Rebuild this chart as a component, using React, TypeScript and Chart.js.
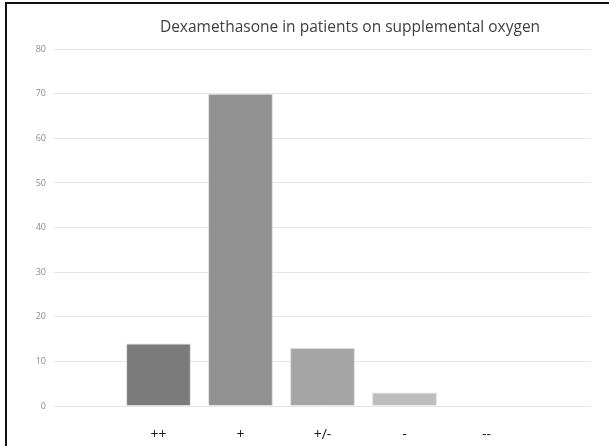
import React, { useEffect, useRef } from "react";
import { Chart, registerables } from "chart.js";

Chart.register(...registerables);

const titleText = "Dexamethasone in patients on supplemental oxygen";
const categories = ["++", "+", "+/-", "-", "--"];
const values = [14, 70, 13, 3, 0];
const barColors = ["#7b7b7b", "#919191", "#a5a5a5", "#bdbdbd", "#d0d0d0"];
const yMax = 80;
const yStep = 10;

export default function App() {
  const ref = useRef<HTMLCanvasElement | null>(null);

  useEffect(() => {
    document.body.style.margin = "0";
    const ctx = ref.current!.getContext("2d")!;
    const edge = 1.274;
    const chart = new Chart(ctx, {
      type: "bar",
      data: {
        datasets: [
          {
            data: values.map((v, i) => ({ x: i, y: v })),
            backgroundColor: barColors,
            borderColor: "#dcdcdc",
            borderWidth: 1,
            categoryPercentage: 1,
            barPercentage: 0.79,
            yAxisID: "y",
          },
        ],
      },
      options: {
        responsive: false,
        animation: false,
        layout: { padding: 0 },
        plugins: {
          legend: { display: false },
          tooltip: { enabled: false },
          title: {
            display: true,
            text: titleText,
            color: "#404040",
            font: { family: "Open Sans", size: 15.5, weight: "normal" },
            padding: { top: 18, bottom: 12.5 },
          },
        },
        scales: {
          x: {
            type: "linear",
            offset: false,
            min: -edge,
            max: categories.length - 1 + edge,
            grid: { display: false, offset: false },
            border: { display: false },
            afterBuildTicks: (scale: any) => {
              scale.ticks = categories.map((_, i) => ({ value: i }));
            },
            afterFit: (scale: any) => {
              scale.height = 40;
            },
            ticks: {
              autoSkip: false,
              maxRotation: 0,
              padding: 13,
              color: "#1a1a1a",
              font: { family: "Open Sans", size: 14 },
              callback: (v: any) => categories[v as number] ?? "",
            },
          },
          y: {
            position: "left",
            min: 0,
            max: yMax,
            grid: { color: "#e6e6e6", lineWidth: 1, drawTicks: false },
            border: { display: false },
            afterFit: (scale: any) => {
              scale.width = 54;
            },
            ticks: {
              stepSize: yStep,
              padding: 8,
              color: "#8c8c8c",
              font: { family: "Open Sans", size: 9 },
            },
          },
          yRight: {
            position: "right",
            min: 0,
            max: yMax,
            grid: { display: false },
            border: { display: false },
            ticks: { display: false },
            afterFit: (scale: any) => {
              scale.width = 109;
            },
          },
        },
      },
    });
    return () => chart.destroy();
  }, []);

  return (
    <div
      style={{
        position: "fixed",
        left: 0,
        top: 0,
        width: 609,
        height: 446,
        overflow: "hidden",
        background: "#ffffff",
      }}
    >
      <canvas ref={ref} width={700} height={446} style={{ display: "block" }} />
      <div
        style={{
          position: "absolute",
          left: 5,
          top: 2,
          right: -10,
          bottom: -10,
          borderLeft: "2px solid #111",
          borderTop: "2px solid #111",
          pointerEvents: "none",
        }}
      />
    </div>
  );
}
